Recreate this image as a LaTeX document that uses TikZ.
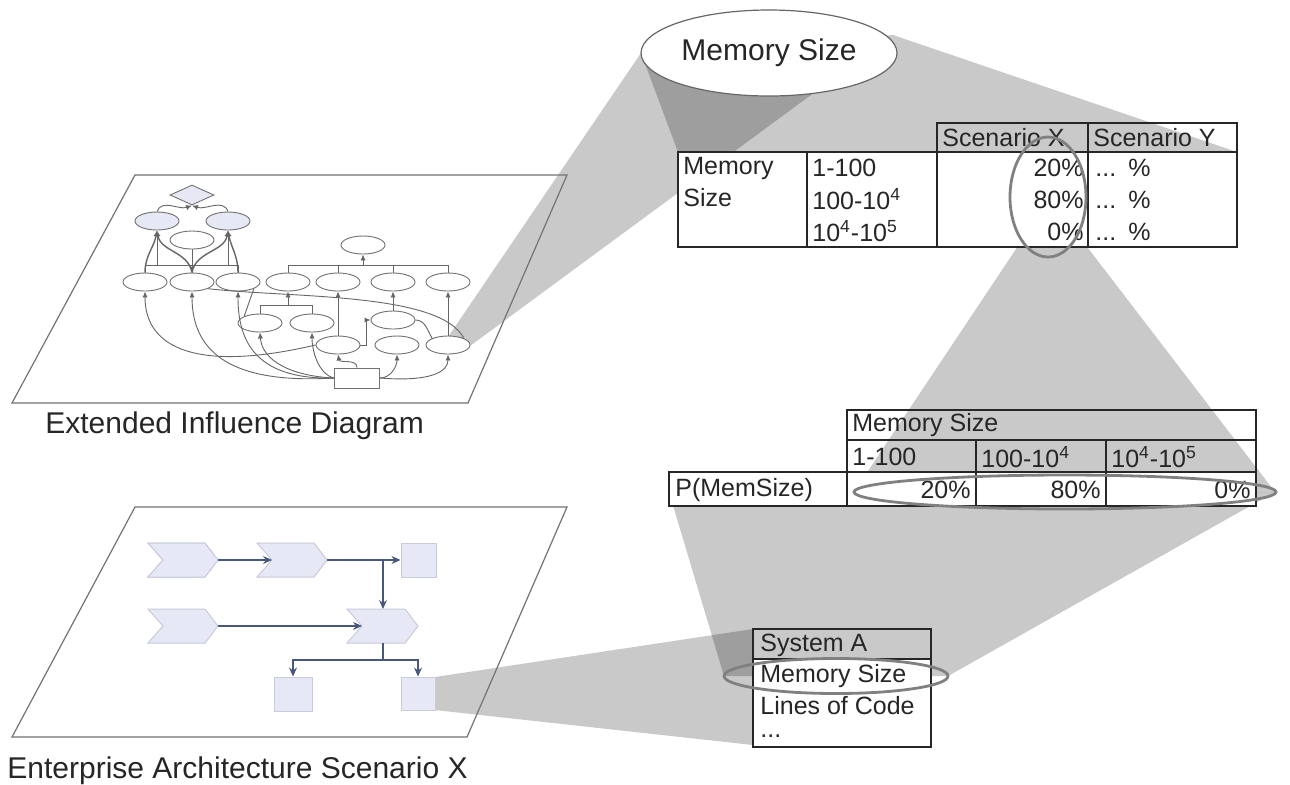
\documentclass[tikz,border=0pt]{standalone}
\usepackage{fontspec}
\setmainfont{Liberation Sans}
\usetikzlibrary{shapes.geometric,arrows.meta}
\definecolor{lav}{RGB}{230,232,245}
\definecolor{lavline}{RGB}{200,203,220}
\definecolor{eablue}{RGB}{72,88,125}
\begin{document}
\begin{tikzpicture}[x=0.5pt,y=-0.5pt,
  tabtxt/.style={font=\fontsize{12.5}{15}\selectfont, text=black!85, inner sep=0pt},
  capfont/.style={font=\fontsize{15}{18}\selectfont, text=black!85, inner sep=0pt, anchor=base west},
  wedgefill/.style={fill=black, fill opacity=0.21},
  planeln/.style={draw=black!55, line width=0.6pt},
  tabln/.style={draw=black!85, line width=0.9pt},
  ringln/.style={ellipse, draw=black!50, line width=1.4pt, inner sep=0pt},
  idell/.style={ellipse, draw=black!55, fill=white, line width=0.45pt, minimum width=22pt, minimum height=9pt, inner sep=0pt},
  idln/.style={draw=black!60, line width=0.45pt},
  idarr/.style={idln, -{Latex[length=3pt,width=2.6pt]}},
  chevfill/.style={fill=lav, draw=lavline, line width=0.5pt},
  eabox/.style={rectangle, fill=lav, draw=lavline, line width=0.5pt, inner sep=0pt},
  eaarrow/.style={draw=eablue, line width=0.6pt, -{Stealth[length=4.5pt,width=4pt]}},
  ealine/.style={draw=eablue, line width=0.6pt}
]
\fill[white] (0,0) rectangle (1290,784);
\useasboundingbox (0,0) rectangle (1290,784);

% magnification wedges, overlapping ones get darker
\fill[wedgefill] (448,337) -- (641,53) -- (815,92) -- (470,346) -- cycle;
\fill[wedgefill] (641,53) -- (893,35) -- (1237,152) -- (678,152) -- cycle;
\fill[wedgefill] (1022,240) -- (1078,235) -- (1275,492) -- (854,492) -- cycle;
\fill[wedgefill] (669,492) -- (1275,492) -- (948,676) -- (724,676) -- cycle;
\fill[wedgefill] (435,677) -- (753,629) -- (753,745) -- (435,710) -- cycle;

% the two sheets
\draw[planeln] (135,175) -- (567,175) -- (468,403) -- (12,403) -- cycle;
\draw[planeln] (135,507) -- (567,507) -- (467,737) -- (12,737) -- cycle;

% ---------- extended influence diagram (thumbnail) ----------
\node[diamond, draw=black!55, fill=lav, line width=0.45pt, minimum width=22pt, minimum height=10pt, inner sep=0pt] (dec) at (192,195) {};
\node[idell, fill=lav] (a1) at (157,221) {};
\node[idell, fill=lav] (a2) at (228,221) {};
\node[idell] (c0) at (192,240) {};
\node[idell] (d1) at (145,282) {};
\node[idell] (d2) at (192,282) {};
\node[idell] (d3) at (238,282) {};
\node[idell] (e0) at (363,245) {};
\node[idell] (f1) at (288,282) {};
\node[idell] (f2) at (338,282) {};
\node[idell] (f3) at (393,282) {};
\node[idell] (f4) at (448,282) {};
\node[idell] (g1) at (260,323) {};
\node[idell] (g2) at (312,323) {};
\node[idell] (g3) at (393,320) {};
\node[idell] (h1) at (338,345) {};
\node[idell] (h2) at (397,345) {};
\node[idell] (h3) at (448,345) {};
\node[rectangle, draw=black!55, fill=white, line width=0.45pt, minimum width=22.5pt, minimum height=10pt, inner sep=0pt] (r0) at (357,378) {};

\coordinate (bar1) at (192,265);
\coordinate (bar2) at (363,265);
\coordinate (bar3) at (288,305);

\draw[idarr] (a1.north) to[out=70,in=200] (dec.south);
\draw[idarr] (a2.north) to[out=110,in=-20] (dec.south);
\draw[idln] (d1.north) |- (bar1) -| (d3.north);
\draw[idln] (d2.north) -- (bar1);
\draw[idarr] (a1.south |- bar1) -- (a1.south);
\draw[idarr] (a2.south |- bar1) -- (a2.south);
\draw[idarr, line width=0.7pt] (d1.north) to[out=90,in=-100] (a1.south);
\draw[idarr, line width=0.7pt] (d2.north) to[out=100,in=-80] (a1.south);
\draw[idarr, line width=0.7pt] (d2.north) to[out=80,in=-100] (a2.south);
\draw[idarr, line width=0.7pt] (d3.north) to[out=90,in=-80] (a2.south);
\draw[idarr] (c0.south) -- (d2.north);

\draw[idarr] (bar2) -- (e0.south);
\draw[idln] (f1.north) |- (bar2) -| (f4.north);
\draw[idln] (f2.north) -- (f2.north |- bar2);
\draw[idln] (f3.north) -- (f3.north |- bar2);
\draw[idarr] (bar3) -- (f1.south);
\draw[idln] (g1.north) |- (bar3) -| (g2.north);
\draw[idarr] (h1.north) -- (f2.south);
\draw[idarr] (g3.north) -- (f3.south);
\draw[idarr] (h3.north) -- (f4.south);

\draw[idarr] (h1.west) .. controls (200,372) and (145,350) .. (d1.south);
\draw[idarr] (r0.west) .. controls (235,384) and (192,355) .. (d2.south);
\draw[idarr] (r0.west) .. controls (250,380) and (238,335) .. (d3.south);
\draw[idarr] (r0.west) .. controls (290,376) and (262,360) .. (g1.south);
\draw[idarr] (r0.west) .. controls (318,374) and (312,350) .. (g2.south);
\draw[idarr] (r0.north) to[out=90,in=-80] (h1.south);
\draw[idarr] (r0.east) to[out=0,in=-90] (h2.south);
\draw[idarr] (r0.east) .. controls (430,382) and (448,372) .. (h3.south);
\draw[idarr] (h1.east) -| ([xshift=-2pt]g3.west) -- (g3.west);
\draw[idln] (d2.south east) .. controls (290,298) and (440,292) .. (h3.north east);
\draw[idln] (d3.south east) -- (g1.north west);
\draw[idln] (g3.east) to[out=0,in=120] (h3.north west);

% ---------- enterprise architecture scenario (thumbnail) ----------
\fill[chevfill] (148,543) -- (205,543) -- (218,560) -- (205,577) -- (148,577) -- (163,560) -- cycle;
\fill[chevfill] (257,543) -- (314,543) -- (327,560) -- (314,577) -- (257,577) -- (272,560) -- cycle;
\fill[chevfill] (148,609) -- (205,609) -- (218,626) -- (205,643) -- (148,643) -- (163,626) -- cycle;
\fill[chevfill] (347,609) -- (405,609) -- (418,626) -- (405,643) -- (347,643) -- (362,626) -- cycle;
\draw[chevfill] (148,543) -- (205,543) -- (218,560) -- (205,577) -- (148,577) -- (163,560) -- cycle;
\coordinate (p1tip) at (218,560);
\coordinate (p2in) at (272,560);
\coordinate (p2tip) at (327,560);
\coordinate (p3tip) at (218,626);
\coordinate (p4in) at (362,626);
\coordinate (p4top) at (383,609);
\coordinate (p4bot) at (383,643);
\coordinate (split) at (383,660);
\node[eabox, minimum width=17.5pt, minimum height=17pt] (s1) at (418.5,560) {};
\node[eabox, minimum width=19pt, minimum height=17pt] (s2) at (293,694) {};
\node[eabox, minimum width=17pt, minimum height=16.5pt] (s3) at (418,693.5) {};

\draw[eaarrow] (p1tip) -- (p2in);
\draw[eaarrow] (p2tip) -- (s1.west);
\draw[eaarrow] (p2tip -| p4top) -- (p4top);
\draw[eaarrow] (p3tip) -- (p4in);
\draw[ealine] (p4bot) -- (split);
\draw[eaarrow] (split) -| (s2.north);
\draw[eaarrow] (split) -| (s3.north);

% captions
\node[capfont] (capid) at (45,433) {Extended Influence Diagram};
\node[capfont] (capea) at (7,778) {Enterprise Architecture Scenario X};

% ---------- scenario table ----------
\draw[tabln] (937,123) rectangle (1088,152);
\draw[tabln] (1088,123) rectangle (1237,152);
\filldraw[tabln, fill=white] (678,152) rectangle (807,247);
\filldraw[tabln, fill=white] (807,152) rectangle (937,247);
\filldraw[tabln, fill=white] (937,152) rectangle (1088,247);
\filldraw[tabln, fill=white] (1088,152) rectangle (1237,247);
\node[tabtxt, anchor=west] (tsx) at (942,138) {Scenario X};
\node[tabtxt, anchor=west] (tsy) at (1093,138) {Scenario Y};
\node[tabtxt, anchor=west] (tm1) at (683,168) {Memory};
\node[tabtxt, anchor=west] (tm2) at (683,198) {Size};
\node[tabtxt, anchor=west] (tr1) at (812,168) {1-100};
\node[tabtxt, anchor=west] (tr2) at (812,199) {100-10\textsuperscript{4}};
\node[tabtxt, anchor=west] (tr3) at (812,231) {10\textsuperscript{4}-10\textsuperscript{5}};
\node[tabtxt, anchor=east] (tx1) at (1084,168) {20\%};
\node[tabtxt, anchor=east] (tx2) at (1084,200) {80\%};
\node[tabtxt, anchor=east] (tx3) at (1084,232) {0\%};
\node[tabtxt, anchor=west] (ty1) at (1095,168) {...\hspace{6pt}\%};
\node[tabtxt, anchor=west] (ty2) at (1095,200) {...\hspace{6pt}\%};
\node[tabtxt, anchor=west] (ty3) at (1095,232) {...\hspace{6pt}\%};
\node[ringln, minimum width=38pt, minimum height=60pt] (ring1) at (1048,197) {};

% ---------- probability table ----------
\draw[tabln] (847,410) rectangle (1256,440);
\draw[tabln] (847,440) rectangle (976,472);
\draw[tabln] (976,440) rectangle (1106,472);
\draw[tabln] (1106,440) rectangle (1256,472);
\filldraw[tabln, fill=white] (669,472) rectangle (847,506);
\filldraw[tabln, fill=white] (847,472) rectangle (976,506);
\filldraw[tabln, fill=white] (976,472) rectangle (1106,506);
\filldraw[tabln, fill=white] (1106,472) rectangle (1256,506);
\node[tabtxt, anchor=west] (pms) at (852,425) {Memory Size};
\node[tabtxt, anchor=west] (pc1) at (852,457) {1-100};
\node[tabtxt, anchor=west] (pc2) at (981,457) {100-10\textsuperscript{4}};
\node[tabtxt, anchor=west] (pc3) at (1111,457) {10\textsuperscript{4}-10\textsuperscript{5}};
\node[tabtxt, anchor=west] (pp) at (675,490) {P(MemSize)};
\node[tabtxt, anchor=east] (pv1) at (971,490) {20\%};
\node[tabtxt, anchor=east] (pv2) at (1101,490) {80\%};
\node[tabtxt, anchor=east] (pv3) at (1251,490) {0\%};
\node[ringln, minimum width=211pt, minimum height=17pt] (ring2) at (1065,492) {};

% ---------- system attribute table ----------
\draw[tabln] (753,629) rectangle (931,659);
\filldraw[tabln, fill=white] (753,659) rectangle (931,747);
\node[tabtxt, anchor=west] (sa) at (760,645) {System A};
\node[tabtxt, anchor=west] (sm) at (760,676) {Memory Size};
\node[tabtxt, anchor=west] (sl) at (760,706) {Lines of Code};
\node[tabtxt, anchor=west] (sd) at (760,736) {...};
\node[ringln, minimum width=112pt, minimum height=17.5pt] (ring3) at (836,676) {};

% ---------- zoomed attribute ----------
\node[ellipse, draw=black!60, fill=white, line width=0.6pt, minimum width=128pt, minimum height=43pt, inner sep=0pt, font=\fontsize{15}{18}\selectfont, text=black!85] (ms) at (769,53) {Memory Size};
\end{tikzpicture}
\end{document}
